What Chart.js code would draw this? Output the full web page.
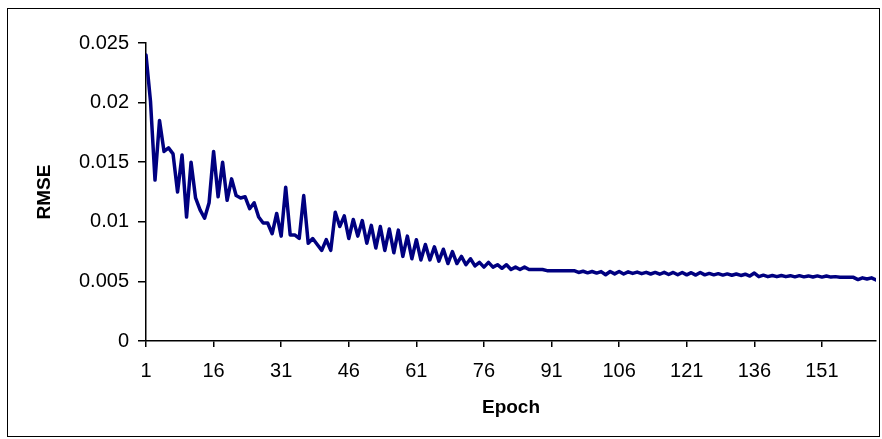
<!DOCTYPE html>
<html>
<head>
<meta charset="utf-8">
<script src="https://cdn.jsdelivr.net/npm/chart.js@4.4.1/dist/chart.umd.min.js"></script>
<style>
html,body{margin:0;padding:0;background:#fff;}
#wrap{width:882px;height:439px;position:relative;}
</style>
</head>
<body>
<div id="wrap"><canvas id="c" width="882" height="439"></canvas></div>
<script>
const rmse = [
0.0240,0.0201,0.0135,0.0185,0.0159,0.0162,0.0157,0.0125,0.0156,0.0104,
0.0150,0.0120,0.0110,0.0103,0.0116,0.0159,0.0121,0.0150,0.0118,0.0136,
0.0122,0.0120,0.0121,0.0111,0.0116,0.0104,0.0099,0.0099,0.0090,0.0107,
0.0088,0.0129,0.0089,0.0089,0.0086,0.0122,0.0082,0.0086,0.0081,0.0076,
0.0085,0.0076,0.0108,0.0096,0.0105,0.0086,0.0102,0.0088,0.0101,0.0082,
0.0097,0.0078,0.0096,0.0076,0.0094,0.0074,0.0093,0.0071,0.0088,0.0069,
0.0085,0.0068,0.0081,0.0068,0.0079,0.0067,0.0077,0.0065,0.0075,0.0065,
0.0071,0.0064,0.0069,0.0063,0.0066,0.0062,0.0066,0.0062,0.0064,0.0061,
0.0064,0.0060,0.0062,0.0060,0.0062,0.0060,0.0060,0.0060,0.0060,0.0059,
0.0059,0.0059,0.0059,0.0059,0.0059,0.0059,0.00575,0.00585,0.00572,0.00583,
0.00570,0.00582,0.00556,0.00583,0.00563,0.00583,0.00562,0.00580,0.00567,0.00578,
0.00565,0.00576,0.00562,0.00575,0.00560,0.00576,0.00558,0.00575,0.00556,0.00575,
0.00555,0.00573,0.00553,0.00575,0.00555,0.00567,0.00555,0.00565,0.00553,0.00563,
0.00552,0.00562,0.00550,0.00560,0.00545,0.00570,0.00540,0.00552,0.00540,0.00550,
0.00540,0.00550,0.00540,0.00548,0.00538,0.00548,0.00538,0.00546,0.00537,0.00546,
0.00536,0.00545,0.00536,0.00540,0.00535,0.00535,0.00534,0.00534,0.00515,0.00530,
0.00520,0.00530,0.00512
];
const epochs = rmse.map((_, i) => i + 1);
const xTickValues = [1,16,31,46,61,76,91,106,121,136,151];
const yTickValues = [0,0.005,0.01,0.015,0.02,0.025];
const yTickLabels = ['0','0.005','0.01','0.015','0.02','0.025'];

const FONT = "'Liberation Sans', Arial, sans-serif";

const borderPlugin = {
  id: 'outerBorder',
  beforeDraw(chart) {
    const ctx = chart.ctx;
    ctx.save();
    ctx.fillStyle = '#fff';
    ctx.fillRect(0, 0, chart.width, chart.height);
    ctx.strokeStyle = '#000';
    ctx.lineWidth = 1;
    ctx.strokeRect(7.5, 8.5, 872, 428);
    ctx.restore();
  }
};

new Chart(document.getElementById('c'), {
  type: 'line',
  data: {
    datasets: [{
      data: epochs.map((e, i) => ({x: e, y: rmse[i]})),
      borderColor: '#000080',
      borderWidth: 3.5,
      pointRadius: 0,
      tension: 0,
      fill: false,
      borderJoinStyle: 'round',
      borderCapStyle: 'round'
    }]
  },
  plugins: [borderPlugin],
  options: {
    responsive: false,
    animation: false,
    layout: {padding: {left: 0, right: 6, top: 43, bottom: 0}},
    plugins: {legend: {display: false}, tooltip: {enabled: false}},
    scales: {
      x: {
        type: 'linear',
        min: 1,
        max: epochs.length,
        afterBuildTicks: s => { s.ticks = xTickValues.map(v => ({value: v})); },
        afterFit: s => { s.height = 98; },
        grid: {display: true, drawOnChartArea: false, drawTicks: true, tickLength: 6, color: '#000', lineWidth: 1.5},
        border: {display: true, color: '#000', width: 1.5},
        ticks: {
          autoSkip: false, maxRotation: 0, padding: 12,
          color: '#000', font: {family: FONT, size: 20},
          callback: v => String(v)
        },
        title: {display: true, text: 'Epoch', color: '#000', font: {family: FONT, size: 19, weight: 'bold'}, padding: {top: 0, bottom: 20}}
      },
      y: {
        min: 0,
        max: 0.025,
        afterBuildTicks: s => { s.ticks = yTickValues.map(v => ({value: v})); },
        afterFit: s => { s.width = 146; },
        grid: {display: true, drawOnChartArea: false, drawTicks: true, tickLength: 8, color: '#000', lineWidth: 1.5},
        border: {display: true, color: '#000', width: 1.5},
        ticks: {
          padding: 9, color: '#000', font: {family: FONT, size: 20},
          callback: (v) => { const i = yTickValues.findIndex(t => Math.abs(t - v) < 1e-9); return i >= 0 ? yTickLabels[i] : ''; }
        },
        title: {display: true, text: 'RMSE', color: '#000', font: {family: FONT, size: 19, weight: 'bold'}, padding: {top: 33, bottom: 0}}
      }
    }
  }
});
</script>
</body>
</html>
